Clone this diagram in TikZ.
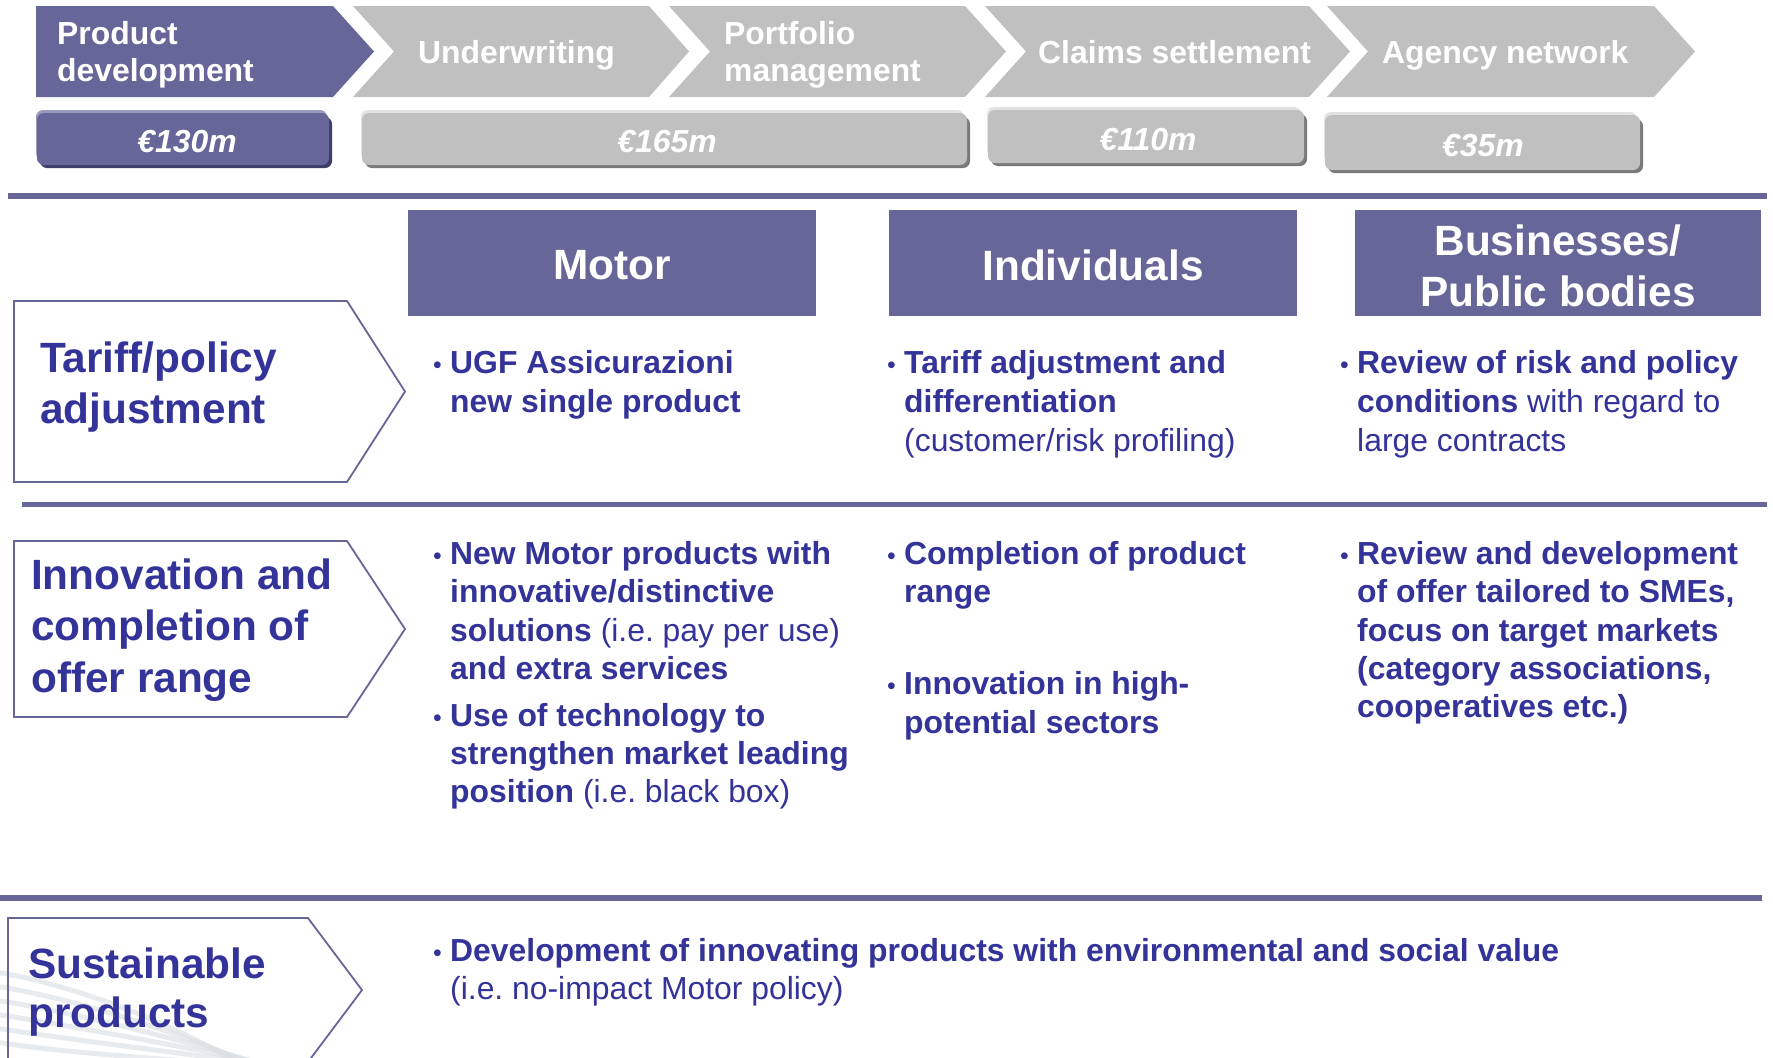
\documentclass[tikz,border=0pt]{standalone}
\usepackage{fontspec}
\setmainfont{Liberation Sans}
\frenchspacing
\definecolor{brandpurple}{HTML}{666699}
\definecolor{purpledark}{HTML}{3E3E6B}
\definecolor{purplelight}{HTML}{9A9ABF}
\definecolor{inkblue}{HTML}{333399}
\definecolor{chevgrey}{HTML}{C0C0C0}
\definecolor{greydark}{HTML}{7A7A7A}
\definecolor{greylight}{HTML}{E2E2E2}
\definecolor{swooshgrey}{HTML}{DADFE3}

\tikzset{
  chevpurple/.style={fill=brandpurple},
  chevplain/.style={fill=chevgrey},
  chevlbl/.style={inner sep=0, anchor=base west, text=white,
    font=\fontsize{32}{35}\selectfont\bfseries},
  valtxt/.style={inner sep=0, text=white,
    font=\fontsize{32}{35}\selectfont\bfseries\itshape},
  rule/.style={draw=brandpurple, line width=5.5bp},
  header/.style={fill=brandpurple, text=white, inner sep=0, align=center,
    font=\fontsize{42.5}{51}\selectfont\bfseries},
  pentagon/.style={draw=brandpurple, line width=1.8bp, line join=miter},
  rowlbl/.style={inner sep=0, anchor=base west, text=inkblue,
    font=\fontsize{42.5}{51}\selectfont\bfseries},
  txt/.style={inner sep=0, anchor=base west, text=inkblue,
    font=\fontsize{32}{38.5}\selectfont},
  dot/.style={inner sep=0, anchor=base west, text=inkblue,
    font=\fontsize{25}{25}\selectfont},
  swoosh/.style={draw=swooshgrey, line width=5bp, opacity=0.6, line cap=round},
}

\begin{document}
\begin{tikzpicture}[x=1bp, y=-1bp]
\useasboundingbox (0,0) rectangle (1773,1057);
\fill[white] (0,0) rectangle (1773,1057);

% ---- value chain chevrons
\fill[chevpurple] (36,6) -- (333,6) -- (374,51.5) -- (333,97) -- (36,97) -- cycle;
\fill[chevplain] (353,6) -- (649,6) -- (689,51.5) -- (649,97) -- (353,97) -- (394,51.5) -- cycle;
\fill[chevplain] (669,6) -- (965,6) -- (1006,51.5) -- (965,97) -- (669,97) -- (710,51.5) -- cycle;
\fill[chevplain] (985,6) -- (1309,6) -- (1350,51.5) -- (1309,97) -- (985,97) -- (1026,51.5) -- cycle;
\fill[chevplain] (1327,6) -- (1654,6) -- (1695,51.5) -- (1654,97) -- (1327,97) -- (1368,51.5) -- cycle;

\node[chevlbl] (pd1) at (57,44) {Product};
\node[chevlbl] (pd2) at (57,81) {development};
\node[chevlbl] (uw)  at (418,63) {Underwriting};
\node[chevlbl] (pm1) at (724,44) {Portfolio};
\node[chevlbl] (pm2) at (724,81) {management};
\node[chevlbl] (cs)  at (1038,63) {Claims settlement};
\node[chevlbl] (an)  at (1382,63) {Agency network};

% ---- cost boxes (highlight, shadow, face)
\fill[purplelight, rounded corners=7] (36,110) rectangle (327,160);
\fill[purpledark, rounded corners=7] (40,117) rectangle (332,168);
\fill[brandpurple, rounded corners=7] (37,113) rectangle (329,165);
\node[valtxt] (v1) at (187,142) {€130m};

\fill[greylight, rounded corners=7] (361,110) rectangle (964,160);
\fill[greydark, rounded corners=7] (365,117) rectangle (970,168);
\fill[chevgrey, rounded corners=7] (362,113) rectangle (967,165);
\node[valtxt] (v2) at (667,142) {€165m};

\fill[greylight, rounded corners=7] (987,107) rectangle (1301,157);
\fill[greydark, rounded corners=7] (991,114) rectangle (1307,166);
\fill[chevgrey, rounded corners=7] (988,110) rectangle (1304,163);
\node[valtxt] (v3) at (1148,140) {€110m};

\fill[greylight, rounded corners=7] (1324,112) rectangle (1637,162);
\fill[greydark, rounded corners=7] (1328,119) rectangle (1643,173);
\fill[chevgrey, rounded corners=7] (1325,115) rectangle (1640,170);
\node[valtxt] (v4) at (1483,146) {€35m};

% ---- separators
\draw[rule] (8,196) -- (1767,196);
\draw[rule] (22,504.5) -- (1767,504.5);
\draw[rule] (0,898) -- (1762,898);

% ---- segment headers
\node[header, minimum width=408bp, minimum height=106bp] (motor) at (612,263) {};
\node[header, minimum width=408bp, minimum height=106bp] (indiv) at (1093,263) {};
\node[header, minimum width=406bp, minimum height=106bp] (biz) at (1558,263) {};
\node[header, fill=none] (motorT) at (612,265) {Motor};
\node[header, fill=none] (indivT) at (1093,265) {Individuals};
\node[header, fill=none] (bizT) at (1558,265.5) {Businesses/\\Public bodies};

% ---- light decorative streaks behind the last row
\foreach \k in {0,...,5}{
  \draw[swoosh] (-5,{972+14*\k}) .. controls (60,{982+14*\k}) and (160,{1015+9*\k}) .. ({250+16*\k},1070);
}

% ---- row labels
\draw[pentagon] (14,301) -- (347,301) -- (405,391.5) -- (347,482) -- (14,482) -- cycle;
\node[rowlbl] (r1a) at (40,372) {Tariff/policy};
\node[rowlbl] (r1b) at (40,423) {adjustment};

\draw[pentagon] (14,541) -- (347,541) -- (405,629) -- (347,717) -- (14,717) -- cycle;
\node[rowlbl] (r2a) at (31,589) {Innovation and};
\node[rowlbl] (r2b) at (31,640.5) {completion of};
\node[rowlbl] (r2c) at (31,692) {offer range};

\draw[pentagon] (8,918) -- (308,918) -- (362,990) -- (308,1062) -- (8,1062) -- cycle;
\node[rowlbl] (r3a) at (28,978) {Sustainable};
\node[rowlbl] (r3b) at (28,1027) {products};

% ---- row 1 contents
\node[dot] (b11) at (433,373) {•};
\node[txt] (t11a) at (450,373) {\bfseries UGF Assicurazioni};
\node[txt] (t11b) at (450,412) {\bfseries new single product};

\node[dot] (b12) at (887,373) {•};
\node[txt] (t12a) at (904,373) {\bfseries Tariff adjustment and};
\node[txt] (t12b) at (904,412) {\bfseries differentiation};
\node[txt] (t12c) at (904,451) {(customer/risk profiling)};

\node[dot] (b13) at (1340,373) {•};
\node[txt] (t13a) at (1357,373) {\bfseries Review of risk and policy};
\node[txt] (t13b) at (1357,412) {\textbf{conditions} with regard to};
\node[txt] (t13c) at (1357,451) {large contracts};

% ---- row 2 contents
\node[dot] (b21) at (433,564) {•};
\node[txt] (t21a) at (450,564) {\bfseries New Motor products with};
\node[txt] (t21b) at (450,602.5) {\bfseries innovative/distinctive};
\node[txt] (t21c) at (450,641) {\textbf{solutions} (i.e. pay per use)};
\node[txt] (t21d) at (450,679) {\bfseries and extra services};
\node[dot] (b21x) at (433,726) {•};
\node[txt] (t21e) at (450,726) {\bfseries Use of technology to};
\node[txt] (t21f) at (450,764) {\bfseries strengthen market leading};
\node[txt] (t21g) at (450,802) {\textbf{position} (i.e. black box)};

\node[dot] (b22) at (887,564) {•};
\node[txt] (t22a) at (904,564) {\bfseries Completion of product};
\node[txt] (t22b) at (904,602.5) {\bfseries range};
\node[dot] (b22x) at (887,694) {•};
\node[txt] (t22c) at (904,694) {\bfseries Innovation in high-};
\node[txt] (t22d) at (904,733) {\bfseries potential sectors};

\node[dot] (b23) at (1340,564) {•};
\node[txt] (t23a) at (1357,564) {\bfseries Review and development};
\node[txt] (t23b) at (1357,602.5) {\bfseries of offer tailored to SMEs,};
\node[txt] (t23c) at (1357,641) {\bfseries focus on target markets};
\node[txt] (t23d) at (1357,679) {\bfseries (category associations,};
\node[txt] (t23e) at (1357,717) {\bfseries cooperatives etc.)};

% ---- row 3 contents
\node[dot] (b31) at (433,961) {•};
\node[txt] (t31a) at (450,961) {\bfseries Development of innovating products with environmental and social value};
\node[txt] (t31b) at (450,999) {(i.e. no-impact Motor policy)};
\end{tikzpicture}
\end{document}
